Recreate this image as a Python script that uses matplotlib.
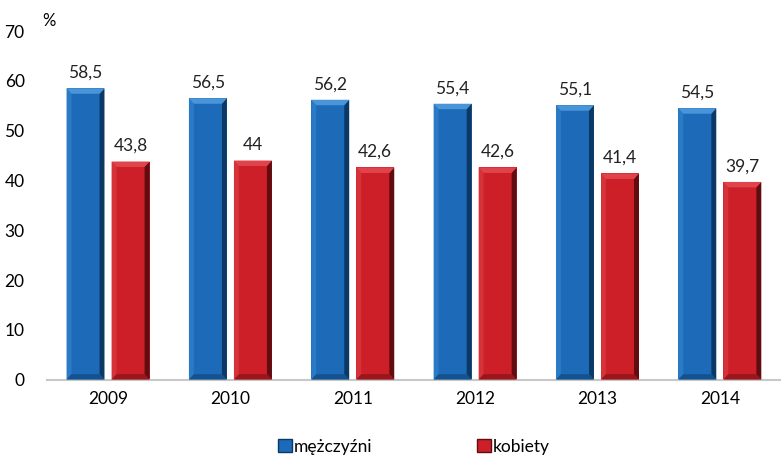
import matplotlib.pyplot as plt
import numpy as np
from matplotlib.patches import Polygon, Rectangle

plt.rcParams['font.family'] = ['Lato', 'DejaVu Sans']

years = ['2009', '2010', '2011', '2012', '2013', '2014']
men = [58.5, 56.5, 56.2, 55.4, 55.1, 54.5]
women = [43.8, 44, 42.6, 42.6, 41.4, 39.7]
series = ['mężczyźni', 'kobiety']

def fmt(v):
    s = ('%g' % v)
    return s.replace('.', ',')

def bevel_bar(ax, x0, w, h, main, light, dark, top, bottom):
    # flat face plus bevel edges, sized from the bar itself
    bx = w * 0.13
    by = 1.1
    ax.add_patch(Rectangle((x0, 0), w, h, facecolor=main, edgecolor='none', zorder=2))
    ax.add_patch(Polygon([(x0, 0), (x0 + bx, by), (x0 + bx, h - by), (x0, h)],
                         closed=True, facecolor=light, edgecolor='none', zorder=3))
    ax.add_patch(Polygon([(x0 + w, 0), (x0 + w - bx, by), (x0 + w - bx, h - by), (x0 + w, h)],
                         closed=True, facecolor=dark, edgecolor='none', zorder=3))
    ax.add_patch(Polygon([(x0, h), (x0 + bx, h - by), (x0 + w - bx, h - by), (x0 + w, h)],
                         closed=True, facecolor=top, edgecolor='none', zorder=3))
    ax.add_patch(Polygon([(x0, 0), (x0 + bx, by), (x0 + w - bx, by), (x0 + w, 0)],
                         closed=True, facecolor=bottom, edgecolor='none', zorder=3))

fig = plt.figure(figsize=(7.81, 4.63), dpi=100)
ax = fig.add_axes([0.06, 0.18, 0.94, 0.753])

x = np.arange(len(years))
w = 0.31
off = 0.184
styles = [('#1d6bb8', '#2a7ac6', '#0c3866', '#4a95d8', '#14528f'),
          ('#cc1f28', '#d6323a', '#600c11', '#e0444a', '#9a161d')]

for i in range(len(years)):
    bevel_bar(ax, x[i] - off - w / 2, w, men[i], *styles[0])
    bevel_bar(ax, x[i] + off - w / 2, w, women[i], *styles[1])
    ax.text(x[i] - off, men[i] + 1.5, fmt(men[i]), ha='center', va='bottom', fontsize=12.5, color='#222222')
    ax.text(x[i] + off, women[i] + 1.5, fmt(women[i]), ha='center', va='bottom', fontsize=12.5, color='#222222')

ax.set_xlim(-0.5, len(years) - 0.5)
ax.set_ylim(0, 70)
ax.set_xticks(x)
ax.set_xticklabels(years, fontsize=12.5)
ax.set_yticks(range(0, 71, 10))
ax.tick_params(axis='y', labelsize=12.5, length=0, pad=16)
ax.tick_params(axis='x', length=0, pad=8)
for s in ['top', 'right', 'left']:
    ax.spines[s].set_visible(False)
ax.spines['bottom'].set_color('#c8c8c8')
ax.spines['bottom'].set_linewidth(1.5)

fig.text(0.054, 0.955, '%', fontsize=12, ha='left', va='center')

handles = [Rectangle((0, 0), 1, 1, facecolor=styles[0][0], edgecolor=styles[0][2]),
           Rectangle((0, 0), 1, 1, facecolor=styles[1][0], edgecolor=styles[1][2])]
fig.legend(handles, series, loc='center', bbox_to_anchor=(0.53, 0.035), ncol=2, frameon=False,
           fontsize=12.5, handlelength=0.8, handleheight=0.8, handletextpad=0.1, columnspacing=6.0)

fig.savefig('out.png', dpi=100)
